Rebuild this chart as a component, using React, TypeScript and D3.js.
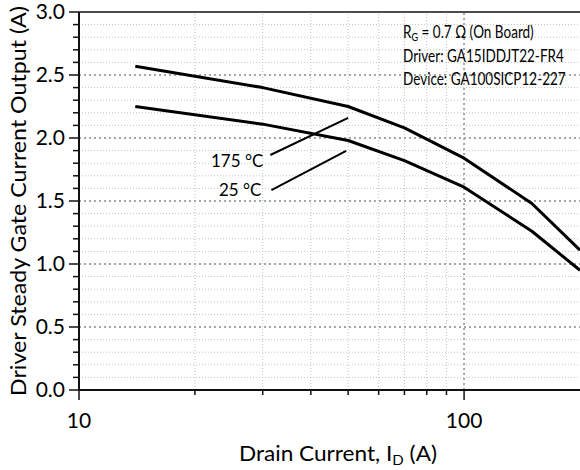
import React, { useRef, useEffect } from 'react'
import * as d3 from 'd3'

// drain current (A) where the curves were measured
const drainCurrent = [14, 30, 50, 70, 100, 150, 200]
// steady gate current output (A)
const gate175 = [2.57, 2.4, 2.25, 2.08, 1.84, 1.48, 1.11]
const gate25 = [2.25, 2.11, 1.98, 1.82, 1.61, 1.26, 0.95]

const xMajorTicks = [10, 100]
const xMinorTicks = [20, 30, 40, 50, 60, 70, 80, 90]
const yMajorTicks = [0, 0.5, 1, 1.5, 2, 2.5, 3]
const yMinorTicks = d3.range(0, 31).map((d) => d / 10).filter((d) => Math.round(d * 10) % 5 !== 0)

const curveLabels = ['175 °C', '25 °C']
const leaderFrom = [[31.4, 1.865], [31.6, 1.587]]
const leaderTo = [[50, 2.16], [49.4, 1.897]]

const infoLines = ['Driver: GA15IDDJT22-FR4', 'Device: GA100SICP12-227']

const W = 580
const H = 470
const FONT = 'Lato, "Open Sans", sans-serif'

const App = () => {
    const ref = useRef<SVGSVGElement | null>(null)

    useEffect(() => {
        if (!ref.current) return
        const svg = d3.select(ref.current)
        svg.selectAll('*').remove()

        const m = { left: 79, top: 12, right: 0, bottom: 80 }
        const x = d3.scaleLog().domain([10, 200]).range([m.left, W - m.right])
        const y = d3.scaleLinear().domain([0, 3]).range([H - m.bottom, m.top])
        const x0 = m.left, x1 = W - m.right, y0 = H - m.bottom, y1 = m.top

        const grid = svg.append('g')
        // minor grid
        grid.selectAll('.hmin').data(yMinorTicks).join('line')
            .attr('x1', x0).attr('x2', x1)
            .attr('y1', (d) => y(d)).attr('y2', (d) => y(d))
            .attr('stroke', '#c4c4c4').attr('stroke-width', 1).attr('stroke-dasharray', '1,2')
        grid.selectAll('.vmin').data(xMinorTicks).join('line')
            .attr('x1', (d) => x(d)).attr('x2', (d) => x(d))
            .attr('y1', y0).attr('y2', y1)
            .attr('stroke', '#c4c4c4').attr('stroke-width', 1).attr('stroke-dasharray', '1,2')
        // major grid
        grid.selectAll('.hmaj').data(yMajorTicks.filter((d) => d > 0 && d < 3)).join('line')
            .attr('x1', x0).attr('x2', x1)
            .attr('y1', (d) => y(d)).attr('y2', (d) => y(d))
            .attr('stroke', '#a6a6a6').attr('stroke-width', 2).attr('stroke-dasharray', '2,3')
        grid.selectAll('.vmaj').data(xMajorTicks.filter((d) => d > 10)).join('line')
            .attr('x1', (d) => x(d)).attr('x2', (d) => x(d))
            .attr('y1', y0).attr('y2', y1)
            .attr('stroke', '#a6a6a6').attr('stroke-width', 2).attr('stroke-dasharray', '2,3')

        // axes frame
        const axes = svg.append('g').attr('stroke', '#111')
        axes.append('line').attr('x1', x0).attr('x2', x1).attr('y1', y0).attr('y2', y0).attr('stroke-width', 2)
        axes.append('line').attr('x1', x0).attr('x2', x1).attr('y1', y1).attr('y2', y1).attr('stroke-width', 1.5)
        axes.append('line').attr('x1', x0).attr('x2', x0).attr('y1', y0 + 1).attr('y2', y1).attr('stroke-width', 2)

        axes.selectAll('.ytmaj').data(yMajorTicks).join('line')
            .attr('x1', x0 - 10).attr('x2', x0).attr('y1', (d) => y(d)).attr('y2', (d) => y(d)).attr('stroke-width', 1.5)
        axes.selectAll('.ytmin').data(yMinorTicks).join('line')
            .attr('x1', x0 - 6).attr('x2', x0).attr('y1', (d) => y(d)).attr('y2', (d) => y(d)).attr('stroke-width', 1.5)
        axes.selectAll('.xtmaj').data(xMajorTicks).join('line')
            .attr('x1', (d) => x(d)).attr('x2', (d) => x(d)).attr('y1', y0).attr('y2', y0 + 10).attr('stroke-width', 1.5)
        axes.selectAll('.xtmin').data(xMinorTicks).join('line')
            .attr('x1', (d) => x(d)).attr('x2', (d) => x(d)).attr('y1', y0).attr('y2', y0 + 5).attr('stroke-width', 1.5)

        // tick labels
        svg.append('g').selectAll('text').data(yMajorTicks).join('text')
            .attr('x', x0 - 14).attr('y', (d) => y(d)).attr('dy', '0.35em')
            .attr('text-anchor', 'end').attr('font-size', 21).attr('font-family', FONT)
            .text((d) => d3.format('.1f')(d))
        svg.append('g').selectAll('text').data(xMajorTicks).join('text')
            .attr('x', (d) => x(d)).attr('y', y0 + 38)
            .attr('text-anchor', 'middle').attr('font-size', 21).attr('font-family', FONT)
            .text((d) => d)

        // axis titles
        const xt = svg.append('text').attr('x', 239).attr('y', 461)
            .attr('font-size', 21).attr('font-family', FONT)
            .attr('textLength', 198).attr('lengthAdjust', 'spacingAndGlyphs')
        xt.append('tspan').text('Drain Current, I')
        xt.append('tspan').attr('font-size', 14).attr('dy', 4).text('D')
        xt.append('tspan').attr('dy', -4).text(' (A)')

        svg.append('text')
            .attr('transform', `translate(26, 396) rotate(-90)`)
            .attr('font-size', 21).attr('font-family', FONT)
            .attr('textLength', 390).attr('lengthAdjust', 'spacingAndGlyphs')
            .text('Driver Steady Gate Current Output (A)')

        // curves
        const line = d3.line<number>()
            .x((_, i) => x(drainCurrent[i]))
            .y((d) => y(d))
        svg.append('g').selectAll('path').data([gate175, gate25]).join('path')
            .attr('d', (d) => line(d))
            .attr('fill', 'none').attr('stroke', '#000').attr('stroke-width', 3)
            .attr('stroke-linejoin', 'round')

        // curve labels with leaders
        const lab = svg.append('g')
        lab.selectAll('line').data(curveLabels).join('line')
            .attr('x1', (_, i) => x(leaderFrom[i][0])).attr('y1', (_, i) => y(leaderFrom[i][1]))
            .attr('x2', (_, i) => x(leaderTo[i][0])).attr('y2', (_, i) => y(leaderTo[i][1]))
            .attr('stroke', '#000').attr('stroke-width', 2)
        const labDy = [12, 6]
        lab.selectAll('text').data(curveLabels).join('text')
            .attr('x', (_, i) => x(leaderFrom[i][0]) - (i === 0 ? 7 : 10))
            .attr('y', (_, i) => y(leaderFrom[i][1]) + labDy[i])
            .attr('text-anchor', 'end').attr('font-size', 17).attr('font-family', FONT)
            .text((d) => d)

        // info box (condensed to match the narrow original face)
        const info = svg.append('g')
            .attr('transform', 'translate(403, 0) scale(0.82, 1)')
            .attr('font-size', 16.5).attr('font-family', FONT)
        const t0 = info.append('text').attr('x', 0).attr('y', 38)
        t0.append('tspan').text('R')
        t0.append('tspan').attr('font-size', 11).attr('dy', 3).text('G')
        t0.append('tspan').attr('dy', -3).text(' = 0.7 Ω (On Board)')
        info.selectAll('.il').data(infoLines).join('text')
            .attr('x', 0).attr('y', (_, i) => 62.5 + i * 22.5)
            .text((d) => d)
    }, [])

    return (
        <svg ref={ref} width={W} height={H}
            style={{ position: 'absolute', left: 0, top: 0, background: '#fff' }} />
    )
}

export default App
